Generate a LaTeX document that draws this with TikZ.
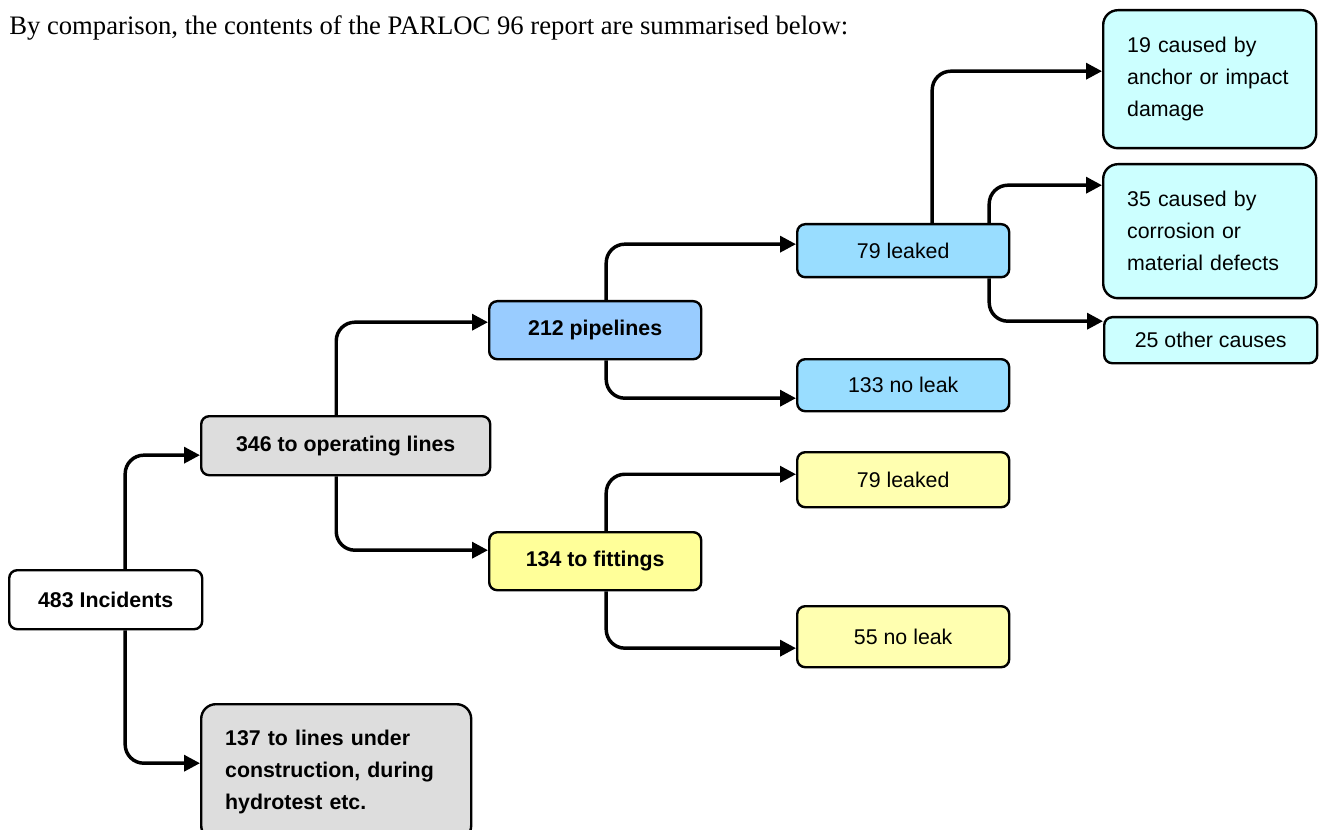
\documentclass[tikz,border=0pt]{standalone}
\usepackage{fontspec}
\setmainfont{Liberation Serif}
\setsansfont{Liberation Sans}
\usetikzlibrary{arrows.meta}

\definecolor{opsgray}{HTML}{DDDDDD}
\definecolor{pipeblue}{HTML}{99CCFF}
\definecolor{leakblue}{HTML}{99DDFF}
\definecolor{causecyan}{HTML}{CCFFFF}
\definecolor{fityellow}{HTML}{FFFF99}
\definecolor{leakyellow}{HTML}{FFFFB0}

\begin{document}
\begin{tikzpicture}[x=0.75pt,y=0.75pt,yscale=-1,xscale=1,
    box/.style={draw, line width=1.8pt, rounded corners=6pt, anchor=north west, inner sep=0pt, align=center, font=\sffamily\fontsize{16}{24}\selectfont},
    bigbox/.style={box, rounded corners=11pt, align=left, inner xsep=18pt},
    conn/.style={line width=2.6pt, rounded corners=14pt, -{Triangle[length=12pt,width=12pt]}}
  ]
    \useasboundingbox (0,0) rectangle (1323,830);

    % Text Node
    \node [anchor=base west, inner sep=0pt, font=\fontsize{20}{24}\selectfont] (title) at (9,35) {By comparison, the contents of the PARLOC 96 report are summarised below:};

    %Shape: Rectangle [id:incidents]
    \node [box, fill=white, minimum width=144.75pt, minimum height=44.25pt, font=\sffamily\bfseries\fontsize{16}{24}\selectfont] (inc) at (8,569) {483 Incidents};
    %Shape: Rectangle [id:operating]
    \node [box, fill=opsgray, minimum width=216.75pt, minimum height=44.25pt, font=\sffamily\bfseries\fontsize{16}{24}\selectfont] (ops) at (200,415) {346 to operating lines};
    %Shape: Rectangle [id:construction]
    \node [bigbox, fill=opsgray, text width=166.5pt, minimum height=102pt, font=\sffamily\bfseries\fontsize{16}{24}\selectfont] (cons) at (200,703) {137 to lines under\\construction, during\\hydrotest etc.};

    %Shape: Rectangle [id:pipelines]
    \node [box, fill=pipeblue, minimum width=159pt, minimum height=43.5pt, font=\sffamily\bfseries\fontsize{16}{24}\selectfont] (pipe) at (488,300) {212 pipelines};
    %Shape: Rectangle [id:fittings]
    \node [box, fill=fityellow, minimum width=159pt, minimum height=43.5pt, font=\sffamily\bfseries\fontsize{16}{24}\selectfont] (fit) at (488,531) {134 to fittings};

    %Shape: Rectangle [id:pipe leaked]
    \node [box, fill=leakblue, minimum width=159pt, minimum height=39.75pt] (pleak) at (796,223) {79 leaked};
    %Shape: Rectangle [id:pipe no leak]
    \node [box, fill=leakblue, minimum width=159pt, minimum height=39pt] (pnoleak) at (796,358) {133 no leak};
    %Shape: Rectangle [id:fitting leaked]
    \node [box, fill=leakyellow, minimum width=159pt, minimum height=41.25pt] (fleak) at (796,451) {79 leaked};
    %Shape: Rectangle [id:fitting no leak]
    \node [box, fill=leakyellow, minimum width=159pt, minimum height=45.75pt] (fnoleak) at (796,605) {55 no leak};

    %Shape: Rectangle [id:anchor]
    \node [bigbox, fill=causecyan, text width=123.75pt, minimum height=103.5pt] (anchor) at (1102,9) {19 caused by\\anchor or impact\\damage};
    %Shape: Rectangle [id:corrosion]
    \node [bigbox, fill=causecyan, text width=123.75pt, minimum height=100.5pt] (corr) at (1102,163) {35 caused by\\corrosion or\\material defects};
    %Shape: Rectangle [id:other]
    \node [box, fill=causecyan, minimum width=159.75pt, minimum height=34.5pt] (other) at (1103,316) {25 other causes};

    % Connectors
    \draw [conn] ([xshift=14.6pt]inc.north) |- ([yshift=7.1pt]ops.west);
    \draw [conn] ([xshift=14.6pt]inc.south) |- ([yshift=-6.75pt]cons.west);
    \draw [conn] ([xshift=-7.1pt]ops.north) |- ([yshift=-6pt]pipe.west);
    \draw [conn] ([xshift=-7.1pt]ops.south) |- ([yshift=-8.25pt]fit.west);
    \draw [conn] ([xshift=8.25pt]pipe.north) |- ([yshift=-4.9pt]pleak.west);
    \draw [conn] ([xshift=8.25pt]pipe.south) |- ([yshift=9.75pt]pnoleak.west);
    \draw [conn] ([xshift=8.25pt]fit.north) |- ([yshift=-4.1pt]fleak.west);
    \draw [conn] ([xshift=8.25pt]fit.south) |- ([yshift=8.6pt]fnoleak.west);
    \draw [conn] ([xshift=21.75pt]pleak.north) |- ([yshift=-6pt]anchor.west);
    \draw [conn] ([xshift=64.5pt]pleak.north) |- ([yshift=-34.5pt]corr.west);
    \draw [conn] ([xshift=64.5pt]pleak.south) |- ([yshift=-14.25pt]other.west);

\end{tikzpicture}
\end{document}
